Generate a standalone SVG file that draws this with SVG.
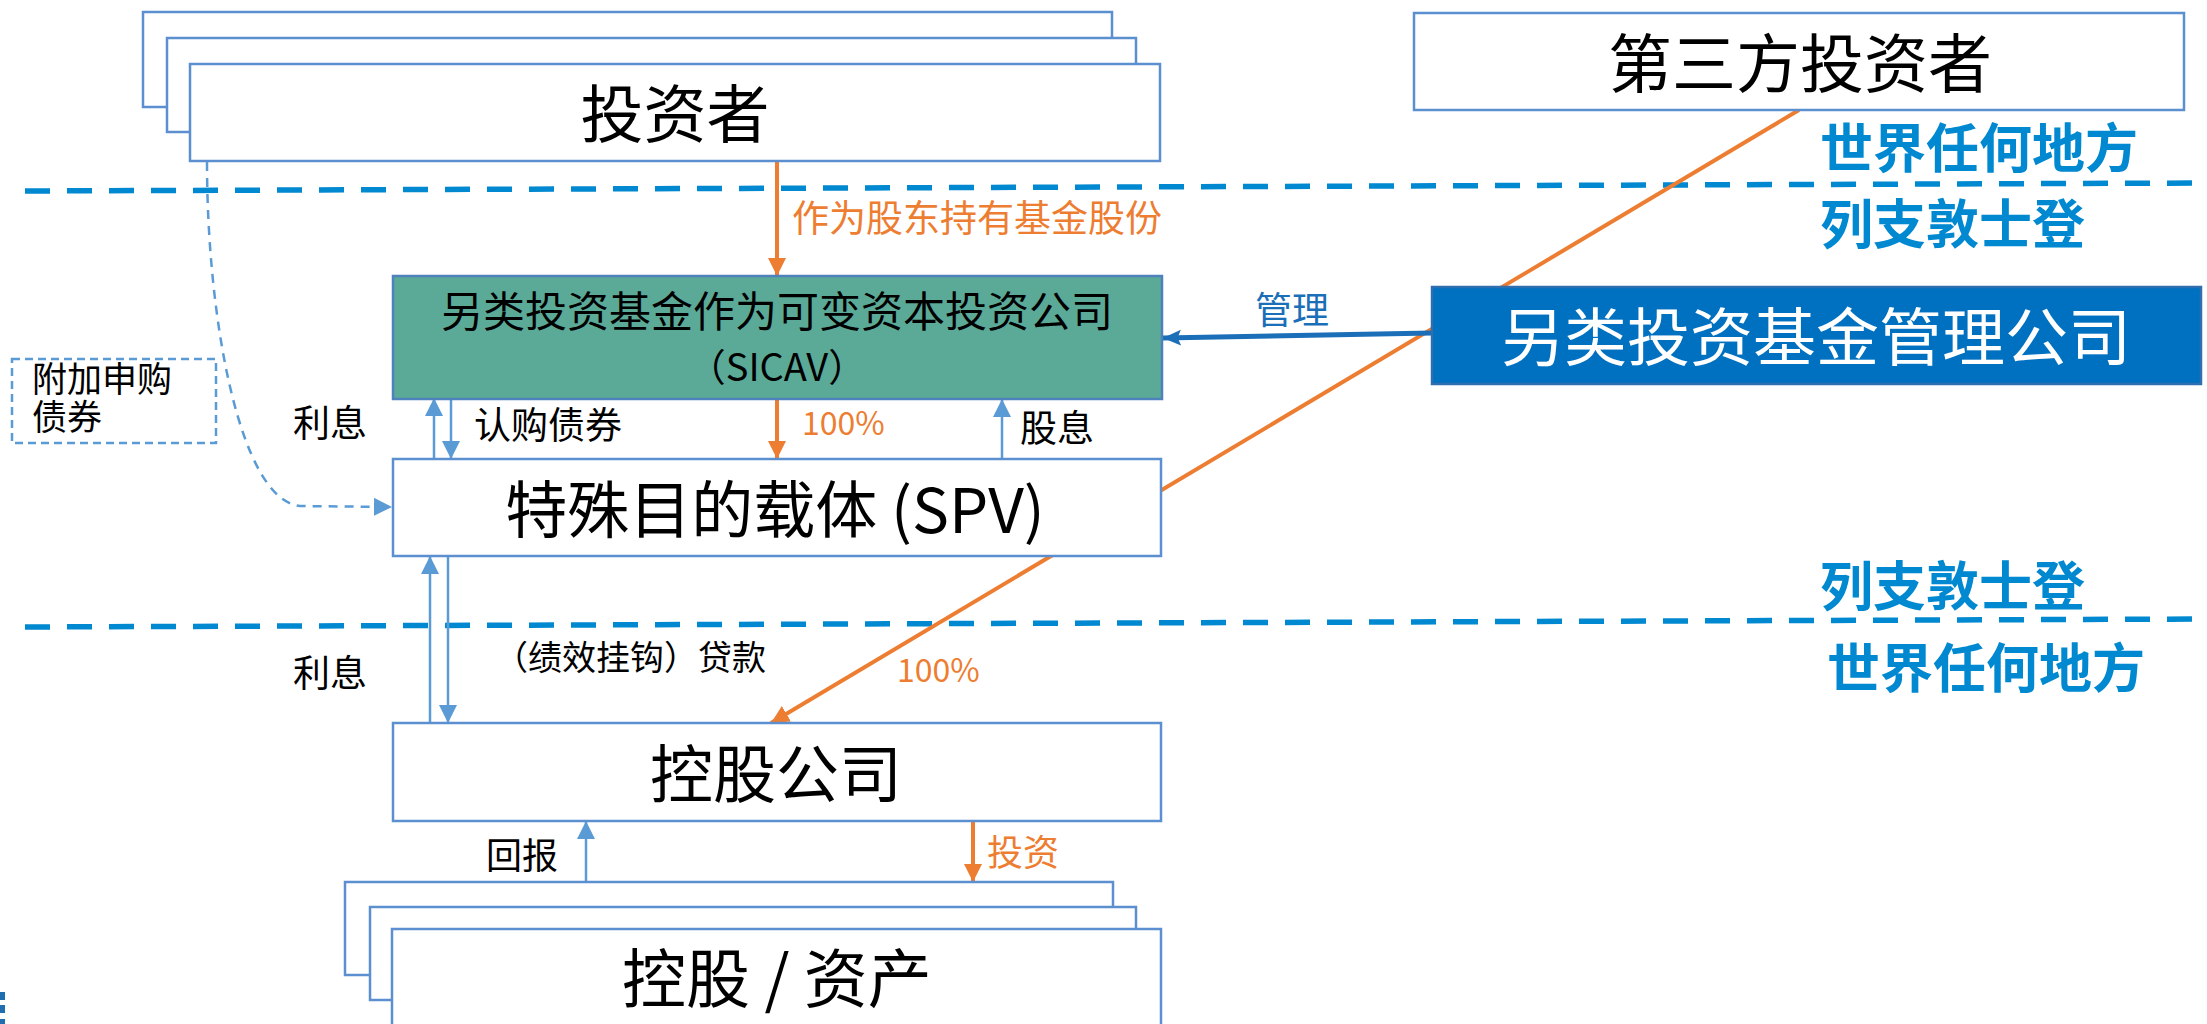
<svg xmlns="http://www.w3.org/2000/svg" width="2207" height="1024" viewBox="0 0 2207 1024">
<defs>
<style>
.box{fill:#ffffff;stroke:#5B8FD0;stroke-width:2.5}
.t{font-family:"Noto Sans CJK SC","Noto Sans",sans-serif;fill:#000000}
.c{text-anchor:middle}
.region{font-family:"Noto Sans CJK SC","Noto Sans",sans-serif;font-weight:bold;fill:#0088D0;font-size:53px}
.orange{fill:#ED7D31}
.thin{stroke:#5B9BD5;stroke-width:2.5;fill:none}
.or{stroke:#ED7D31;stroke-width:4;fill:none}
.bound{stroke:#0088D0;stroke-width:5.5;stroke-dasharray:25 17;fill:none}
</style>
<marker id="aBlue" markerUnits="userSpaceOnUse" markerWidth="18" markerHeight="18" viewBox="0 0 16 16" refX="16" refY="8" orient="auto">
<path d="M0,0 L16,8 L0,16 Z" fill="#5B9BD5"/>
</marker>
<marker id="aOrange" markerUnits="userSpaceOnUse" markerWidth="18" markerHeight="18" viewBox="0 0 16 16" refX="16" refY="8" orient="auto">
<path d="M0,0 L16,8 L0,16 Z" fill="#ED7D31"/>
</marker>
<marker id="aDark" markerUnits="userSpaceOnUse" markerWidth="18" markerHeight="18" viewBox="0 0 16 16" refX="16" refY="8" orient="auto">
<path d="M0,1 L16,8 L0,15 L3,8 Z" fill="#1A6FB8"/>
</marker>
</defs>
<rect width="2207" height="1024" fill="#ffffff"/>

<g id="boundaries">
<line class="bound" x1="25" y1="191" x2="2207" y2="183"/>
<line class="bound" x1="25" y1="627" x2="2207" y2="619"/>
<text class="region" x="1820" y="168">世界任何地方</text>
<text class="region" x="1820" y="244">列支敦士登</text>
<text class="region" x="1820" y="606">列支敦士登</text>
<text class="region" x="1827" y="688">世界任何地方</text>
</g>

<g id="connectors">
<line class="or" x1="1799" y1="110" x2="771" y2="723" marker-end="url(#aOrange)"/>
<line class="or" x1="777" y1="161" x2="777" y2="276" stroke-width="3.5" marker-end="url(#aOrange)"/>
<line class="or" x1="777" y1="399" x2="777" y2="459" stroke-width="3.5" marker-end="url(#aOrange)"/>
<line class="or" x1="973" y1="821" x2="973" y2="882" stroke-width="3.5" marker-end="url(#aOrange)"/>
<line x1="1432" y1="333" x2="1163" y2="338" stroke="#1A6FB8" stroke-width="5" marker-end="url(#aDark)"/>
<line class="thin" x1="434" y1="459" x2="434" y2="398" marker-end="url(#aBlue)"/>
<line class="thin" x1="451" y1="399" x2="451" y2="459" marker-end="url(#aBlue)"/>
<line class="thin" x1="1002" y1="459" x2="1002" y2="399" marker-end="url(#aBlue)"/>
<line class="thin" x1="430" y1="723" x2="430" y2="556" marker-end="url(#aBlue)"/>
<line class="thin" x1="448" y1="556" x2="448" y2="723" marker-end="url(#aBlue)"/>
<line class="thin" x1="586" y1="882" x2="586" y2="821" marker-end="url(#aBlue)"/>
<path class="thin" d="M207,162 C207,320 240,500 300,506 L392,507" stroke-dasharray="9 7" marker-end="url(#aBlue)"/>
<text class="t orange" x="792" y="232" font-size="37">作为股东持有基金股份</text>
<text class="t" x="1255" y="324" font-size="37" style="fill:#1A6FB8">管理</text>
<text class="t" x="293" y="437" font-size="37">利息</text>
<text class="t" x="474" y="439" font-size="37">认购债券</text>
<text class="t orange" x="802" y="435" font-size="32">100%</text>
<text class="t" x="1020" y="442" font-size="37">股息</text>
<text class="t" x="293" y="687" font-size="37">利息</text>
<text class="t" x="494" y="670" font-size="34">（绩效挂钩）贷款</text>
<text class="t orange" x="897" y="682" font-size="32">100%</text>
<text class="t" x="486" y="869" font-size="36">回报</text>
<text class="t orange" x="987" y="866" font-size="36">投资</text>
</g>

<g id="investors">
<rect class="box" x="143" y="12" width="969" height="95"/>
<rect class="box" x="167" y="38" width="969" height="94"/>
<rect class="box" x="190" y="64" width="970" height="97"/>
<text class="t c" x="675" y="137" font-size="63">投资者</text>
</g>

<g id="third-party">
<rect class="box" x="1414" y="13" width="770" height="97"/>
<text class="t c" x="1800" y="87" font-size="64">第三方投资者</text>
</g>

<g id="sicav">
<rect x="393" y="276" width="769" height="123" fill="#5BAA98" stroke="#4F81BD" stroke-width="2.5"/>
<text class="t c" x="777" y="327" font-size="42">另类投资基金作为可变资本投资公司</text>
<text class="t c" x="777" y="381" font-size="38">（SICAV）</text>
</g>

<g id="manager">
<rect x="1432" y="287" width="769" height="97" fill="#0070C0" stroke="#2F6FB0" stroke-width="2.5"/>
<text class="t c" x="1816" y="360" font-size="63" style="fill:#ffffff">另类投资基金管理公司</text>
</g>

<g id="extra-bond">
<rect x="12" y="359" width="204" height="84" fill="none" stroke="#5B9BD5" stroke-width="2.5" stroke-dasharray="8 5"/>
<text class="t" x="32" y="392" font-size="35">附加申购</text>
<text class="t" x="32" y="430" font-size="35">债券</text>
</g>

<g id="spv">
<rect class="box" x="393" y="459" width="768" height="97"/>
<text class="t c" x="775" y="533" font-size="62">特殊目的载体 (SPV)</text>
</g>

<g id="holding">
<rect class="box" x="393" y="723" width="768" height="98"/>
<text class="t c" x="776" y="797" font-size="63">控股公司</text>
</g>

<g id="assets">
<rect class="box" x="345" y="882" width="768" height="93"/>
<rect class="box" x="370" y="907" width="766" height="93"/>
<rect class="box" x="392" y="929" width="769" height="101"/>
<text class="t c" x="777" y="1002" font-size="64">控股 / 资产</text>
</g>

<g id="corner-mark" fill="#1F6FB0">
<rect x="0" y="992" width="5" height="8"/>
<rect x="0" y="1005" width="5" height="8"/>
<rect x="0" y="1019" width="5" height="5"/>
</g>
</svg>
